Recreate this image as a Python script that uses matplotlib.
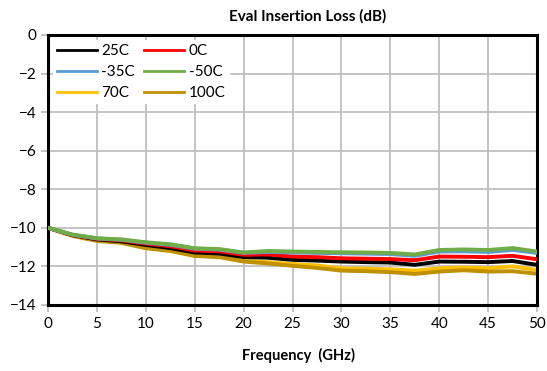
import matplotlib
matplotlib.use("Agg")
import matplotlib.pyplot as plt
import numpy as np

# frequency grid (GHz) and insertion loss (dB) per temperature
freq = np.arange(0, 50.01, 2.5)
loss_25c = [-10.0, -10.38, -10.6, -10.7, -10.89, -11.05, -11.28, -11.33, -11.52, -11.55, -11.66,
            -11.7, -11.75, -11.78, -11.8, -11.92, -11.75, -11.76, -11.78, -11.72, -11.92]
loss_0c = [-10.0, -10.37, -10.57, -10.65, -10.82, -10.95, -11.18, -11.22, -11.4, -11.38, -11.49,
           -11.52, -11.58, -11.6, -11.62, -11.68, -11.49, -11.5, -11.52, -11.45, -11.63]
loss_m35c = [-10.0, -10.36, -10.55, -10.62, -10.77, -10.88, -11.08, -11.13, -11.3, -11.25, -11.28,
             -11.3, -11.32, -11.34, -11.36, -11.45, -11.23, -11.22, -11.25, -11.15, -11.3]
loss_m50c = [-10.0, -10.35, -10.54, -10.6, -10.75, -10.85, -11.06, -11.1, -11.28, -11.2, -11.23,
             -11.25, -11.27, -11.28, -11.3, -11.38, -11.15, -11.12, -11.15, -11.05, -11.23]
loss_70c = [-10.0, -10.4, -10.65, -10.75, -11.0, -11.15, -11.43, -11.48, -11.72, -11.78, -11.87,
            -11.95, -12.1, -12.12, -12.15, -12.22, -12.1, -12.05, -12.1, -12.0, -12.18]
loss_100c = [-10.0, -10.42, -10.68, -10.78, -11.06, -11.2, -11.46, -11.52, -11.75, -11.85, -11.97,
             -12.08, -12.22, -12.25, -12.3, -12.39, -12.27, -12.2, -12.27, -12.25, -12.38]

series = [
    ("25C", loss_25c, "#000000", 2.6),
    ("0C", loss_0c, "#FF0000", 2.7),
    ("-35C", loss_m35c, "#5B9BD5", 2.8),
    ("-50C", loss_m50c, "#70AD47", 2.9),
    ("70C", loss_70c, "#FFC000", 2.3),
    ("100C", loss_100c, "#BF9000", 2.4),
]

plt.rcParams["font.family"] = ["Lato", "DejaVu Sans"]

fig = plt.figure(figsize=(5.47, 3.71), dpi=100)
ax = fig.add_axes([0.0878, 0.178, 0.8939, 0.7277])

lines = {}
for name, values, color, z in series:
    lines[name], = ax.plot(freq, values, color=color, lw=2.8, label=name, zorder=z)

ax.set_xlim(0, 50)
ax.set_ylim(-14, 0)
ax.set_xticks(np.arange(0, 51, 5))
ax.set_yticks(np.arange(-14, 1, 2))
ax.grid(True, color="#BFBFBF", lw=1.3)
ax.set_axisbelow(True)
ax.tick_params(axis="both", labelsize=11, length=5, width=1.3, color="#BFBFBF", direction="out")
for spine in ax.spines.values():
    spine.set_linewidth(2.2)
    spine.set_color("black")

# row-major legend like the reference: matplotlib fills columns first
order = ["25C", "-35C", "70C", "0C", "-50C", "100C"]
leg = ax.legend([lines[n] for n in order], order, ncol=2, loc="upper left",
                bbox_to_anchor=(0.0, 1.0), fontsize=11,
                frameon=True, fancybox=False, edgecolor="none", framealpha=1,
                handlelength=2.6, handletextpad=0.3, columnspacing=0.6, labelspacing=0.45,
                borderpad=0.3, borderaxespad=0.3)
leg.set_zorder(5)
for h in leg.get_lines():
    h.set_linewidth(2.0)

fig.text(0.563, 0.955, "Eval Insertion Loss (dB)", ha="center", va="center",
         fontsize=11, fontweight="bold")
fig.text(0.545, 0.043, "Frequency  (GHz)", ha="center", va="center",
         fontsize=10.5, fontweight="bold")

fig.savefig("out.png", dpi=100)
